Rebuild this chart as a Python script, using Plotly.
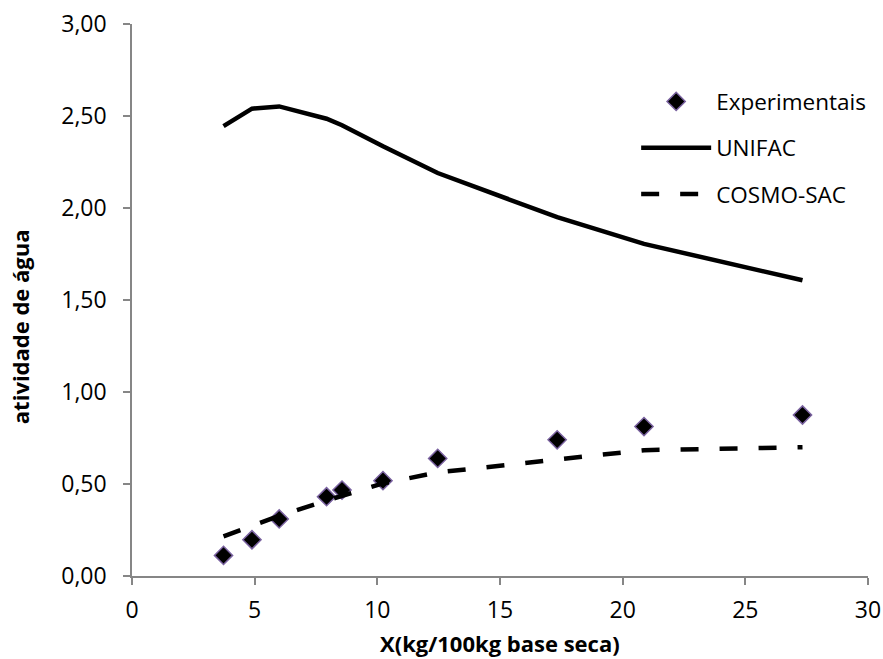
import plotly.graph_objects as go

x_vals = [3.73, 4.89, 6.00, 7.93, 8.56, 10.23, 12.46, 17.33, 20.87, 27.33]
experimentais = [0.112, 0.197, 0.310, 0.431, 0.467, 0.518, 0.639, 0.740, 0.812, 0.875]
unifac = [2.445, 2.540, 2.552, 2.485, 2.450, 2.335, 2.190, 1.950, 1.805, 1.607]
cosmo_sac = [0.215, 0.272, 0.327, 0.410, 0.437, 0.503, 0.563, 0.631, 0.684, 0.700]

x_ticks = [0, 5, 10, 15, 20, 25, 30]
y_ticks = [0.0, 0.5, 1.0, 1.5, 2.0, 2.5, 3.0]
y_tick_labels = ["0,00", "0,50", "1,00", "1,50", "2,00", "2,50", "3,00"]

FONT = "Open Sans"

fig = go.Figure()
fig.add_trace(go.Scatter(
    x=x_vals, y=experimentais, mode="markers", name="Experimentais",
    legendgroup="a",
    marker=dict(symbol="diamond", size=14, color="black",
                line=dict(color="#7a62a0", width=1.5)),
))
fig.add_trace(go.Scatter(
    x=x_vals, y=unifac, mode="lines", name="UNIFAC", legendgroup="b",
    line=dict(color="black", width=4.5),
))
fig.add_trace(go.Scatter(
    x=x_vals, y=cosmo_sac, mode="lines", name="COSMO-SAC", legendgroup="c",
    line=dict(color="black", width=4.5, dash="18px,21px"),
))

axis_common = dict(
    showgrid=False, zeroline=False, showline=True, automargin=False,
    linecolor="#868686", linewidth=1.5,
    ticks="outside", ticklen=7, tickcolor="#868686", tickwidth=1.5,
    tickfont=dict(family=FONT, size=23, color="black"),
)

fig.update_xaxes(range=[0, 30], tickvals=x_ticks, ticktext=[str(v) for v in x_ticks],
                 ticklabelstandoff=6, **axis_common)
fig.update_yaxes(range=[0, 3], tickvals=y_ticks, ticktext=y_tick_labels,
                 ticklabelstandoff=12, **axis_common)

fig.update_layout(
    width=883, height=659,
    margin=dict(l=132, r=15, t=24, b=83, autoexpand=False),
    paper_bgcolor="white", plot_bgcolor="white",
    font=dict(family=FONT, size=22, color="black"),
    legend=dict(
        x=0.685, y=0.898, xanchor="left", yanchor="top",
        traceorder="grouped", tracegroupgap=14,
        bgcolor="rgba(0,0,0,0)", borderwidth=0,
        font=dict(family=FONT, size=22.5, color="black"),
        itemwidth=70,
    ),
    showlegend=True,
    annotations=[
        dict(text="<b>X(kg/100kg base seca)</b>", xref="paper", yref="paper",
             x=0.5, y=-0.121, xanchor="center", yanchor="middle",
             showarrow=False, font=dict(family=FONT, size=22, color="black")),
        dict(text="<b>atividade de água</b>", xref="paper", yref="paper",
             x=-0.152, y=0.451, xanchor="center", yanchor="middle", textangle=-90,
             showarrow=False, font=dict(family=FONT, size=22, color="black")),
    ],
)

fig.write_html("out.html")
